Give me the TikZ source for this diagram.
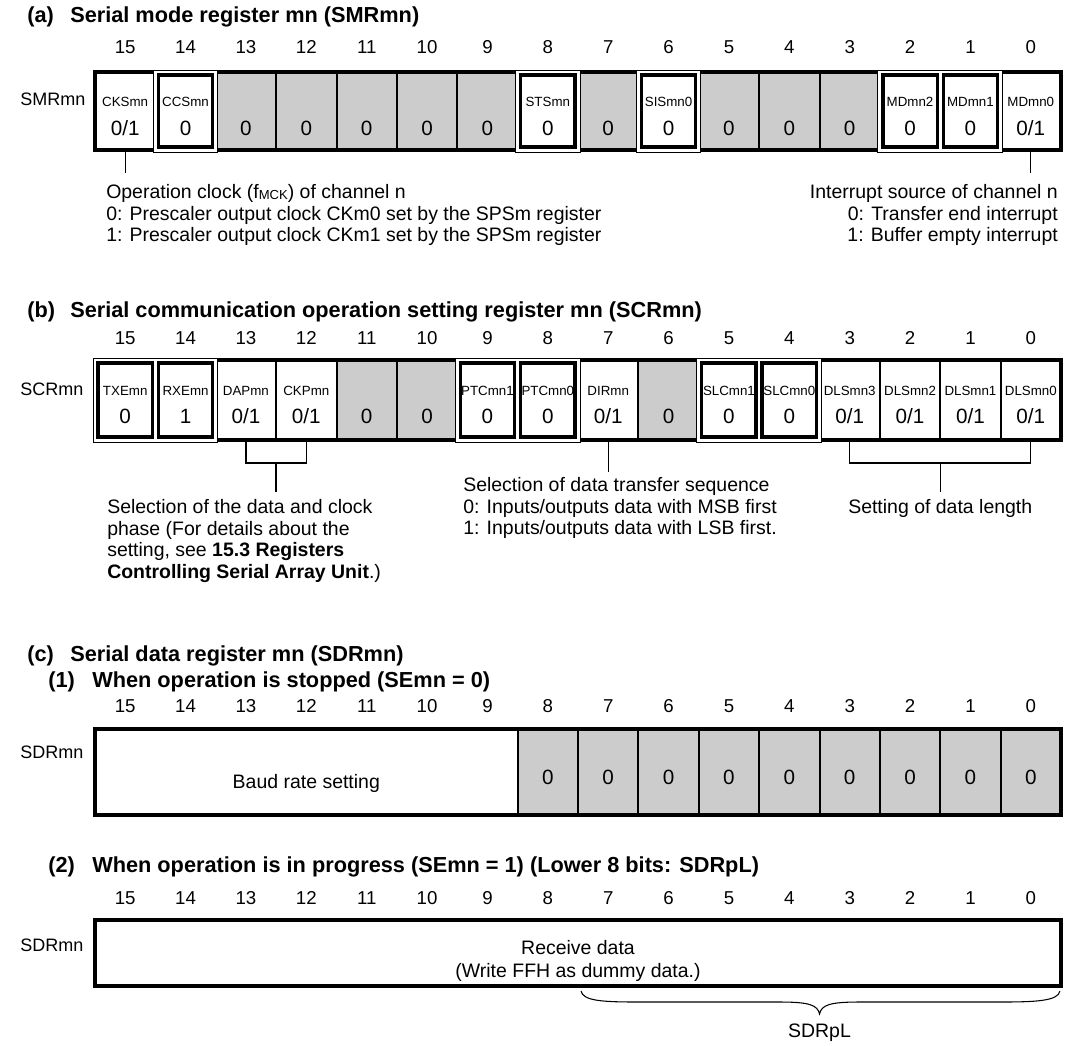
\documentclass[tikz,border=0pt]{standalone}
\usepackage{fontspec}
\setmainfont{Liberation Sans}
\begin{document}
\begin{tikzpicture}[x=0.75pt,y=-0.75pt,
  frame/.style={line width=2.8pt},
  sep/.style={line width=1.5pt},
  fixin/.style={line width=2.6pt},
  fixout/.style={line width=0.6pt, fill=white},
  grayfill/.style={fill=gray!40},
  title/.style={font=\fontsize{16.3}{19}\selectfont\bfseries, anchor=base west, inner sep=0pt},
  bitnum/.style={font=\fontsize{14}{16}\selectfont, anchor=base, inner sep=0pt},
  fname/.style={font=\fontsize{10}{12}\selectfont, anchor=base, inner sep=0pt},
  fval/.style={font=\fontsize{15.5}{18}\selectfont, anchor=base, inner sep=0pt},
  desc/.style={font=\fontsize{14.6}{16}\selectfont, anchor=base west, inner sep=0pt},
  descr/.style={desc, anchor=base east},
  desccen/.style={desc, anchor=base},
  reglabel/.style={font=\fontsize{13.5}{16}\selectfont, anchor=base west, inner sep=0pt},
  tick/.style={line width=1pt},
]
\def\L{95}
\def\W{60.375}
\useasboundingbox (0,0) rectangle (1073,1045);

% ================= (a) SMRmn =================
\node[title] (ta1) at (27,22.7) {(a)};
\node[title] (ta2) at (70,22.7) {Serial mode register mn (SMRmn)};
\foreach \b in {15,14,...,0} \node[bitnum] (an\b) at ({\L+(15.5-\b)*\W},53.7) {\b};
\node[reglabel] (la) at (20,106) {SMRmn};
\foreach \b in {13,12,11,10,9,7,5,4,3} \fill[grayfill] ({\L+(15-\b)*\W},72) rectangle ({\L+(16-\b)*\W},150);
\foreach \k in {1,...,15} \draw[sep] ({\L+\k*\W},72) -- ({\L+\k*\W},150);
\draw[frame] (\L,72) rectangle ({\L+16*\W},150);
\foreach \hi/\lo in {14/14,8/8,6/6,2/1} \draw[fixout] ({\L+(15-\hi)*\W-2},70) rectangle ({\L+(16-\lo)*\W+2},152);
\foreach \b in {14,8,6,2,1} \draw[fixin] ({\L+(15-\b)*\W+3},75) rectangle ({\L+(16-\b)*\W-3},147);
\foreach \b/\nm in {15/CKSmn,14/CCSmn,8/STSmn,6/SISmn0,2/MDmn2,1/MDmn1,0/MDmn0}
  \node[fname] (af\b) at ({\L+(15.5-\b)*\W},107) {\nm};
\foreach \b/\v in {15/{0/1},14/0,13/0,12/0,11/0,10/0,9/0,8/0,7/0,6/0,5/0,4/0,3/0,2/0,1/0,0/{0/1}}
  \node[fval] (av\b) at ({\L+(15.5-\b)*\W},135.5) {\v};
\coordinate (aB15) at ({\L+0.5*\W},150);
\coordinate (aE15) at ({\L+0.5*\W},173);
\coordinate (aB0) at ({\L+15.5*\W},150);
\coordinate (aE0) at ({\L+15.5*\W},173);
\draw[tick] (aB15) -- (aE15);
\draw[tick] (aB0) -- (aE0);
\node[desc] (ad1) at (106,198.7) {Operation clock (f\raisebox{-0.6pt}{\fontsize{9.8}{10}\selectfont MCK}) of channel n};
\node[desc] (ad2) at (106,220.2) {0: Prescaler output clock CKm0 set by the SPSm register};
\node[desc] (ad3) at (106,241.7) {1: Prescaler output clock CKm1 set by the SPSm register};
\node[descr] (ar1) at (1058,198.7) {Interrupt source of channel n};
\node[descr] (ar2) at (1058,220.2) {0: Transfer end interrupt};
\node[descr] (ar3) at (1058,241.7) {1: Buffer empty interrupt};

% ================= (b) SCRmn =================
\node[title] (tb1) at (27,317.7) {(b)};
\node[title] (tb2) at (70,317.7) {Serial communication operation setting register mn (SCRmn)};
\foreach \b in {15,14,...,0} \node[bitnum] (bn\b) at ({\L+(15.5-\b)*\W},344.7) {\b};
\node[reglabel] (lb) at (20,395) {SCRmn};
\foreach \b in {11,10,6} \fill[grayfill] ({\L+(15-\b)*\W},360) rectangle ({\L+(16-\b)*\W},440);
\foreach \k in {1,...,15} \draw[sep] ({\L+\k*\W},360) -- ({\L+\k*\W},440);
\draw[frame] (\L,360) rectangle ({\L+16*\W},440);
\foreach \hi/\lo in {15/14,9/8,5/4} \draw[fixout] ({\L+(15-\hi)*\W-2},358) rectangle ({\L+(16-\lo)*\W+2},442);
\foreach \b in {15,14,9,8,5,4} \draw[fixin] ({\L+(15-\b)*\W+3},363) rectangle ({\L+(16-\b)*\W-3},437);
\foreach \b/\nm in {15/TXEmn,14/RXEmn,13/DAPmn,12/CKPmn,9/PTCmn1,8/PTCmn0,7/DIRmn,5/SLCmn1,4/SLCmn0,3/DLSmn3,2/DLSmn2,1/DLSmn1,0/DLSmn0}
  \node[fname] (bf\b) at ({\L+(15.5-\b)*\W},395) {\nm};
\foreach \b/\v in {15/0,14/1,13/{0/1},12/{0/1},11/0,10/0,9/0,8/0,7/{0/1},6/0,5/0,4/0,3/{0/1},2/{0/1},1/{0/1},0/{0/1}}
  \node[fval] (bv\b) at ({\L+(15.5-\b)*\W},423.5) {\v};
% bracket DAP/CKP
\coordinate (bB13) at ({\L+2.5*\W},440);
\coordinate (bB12) at ({\L+3.5*\W},440);
\coordinate (bK1) at ({\L+3*\W},463);
\coordinate (bK1e) at ({\L+3*\W},492);
\draw[tick] (bB13) -- ++(0,23) -| (bB12);
\draw[tick] (bK1) -- (bK1e);
% DIR tick
\coordinate (bB7) at ({\L+8.5*\W},440);
\coordinate (bE7) at ({\L+8.5*\W},472);
\draw[tick] (bB7) -- (bE7);
% bracket DLS
\coordinate (bB3) at ({\L+12.5*\W},440);
\coordinate (bB0) at ({\L+15.5*\W},440);
\coordinate (bK2) at ({\L+14*\W},463);
\coordinate (bK2e) at ({\L+14*\W},492);
\draw[tick] (bB3) -- ++(0,23) -| (bB0);
\draw[tick] (bK2) -- (bK2e);
\node[desc] (bl1) at (107,513.7) {Selection of the data and clock};
\node[desc] (bl2) at (107,535.2) {phase (For details about the};
\node[desc] (bl3) at (107,556.7) {setting, see \textbf{15.3 Registers}};
\node[desc] (bl4) at (107,578.2) {\textbf{Controlling Serial Array Unit}.)};
\node[desc] (bm1) at (463,491.7) {Selection of data transfer sequence};
\node[desc] (bm2) at (463,513.2) {0: Inputs/outputs data with MSB first};
\node[desc] (bm3) at (463,534.7) {1: Inputs/outputs data with LSB first.};
\node[desccen] (br1) at ({\L+14*\W},513.7) {Setting of data length};

% ================= (c) SDRmn =================
\node[title] (tc1) at (27,661.7) {(c)};
\node[title] (tc2) at (70,661.7) {Serial data register mn (SDRmn)};
\node[title] (tc3) at (48,687.7) {(1)};
\node[title] (tc4) at (92,687.7) {When operation is stopped (SEmn = 0)};
\foreach \b in {15,14,...,0} \node[bitnum] (cn\b) at ({\L+(15.5-\b)*\W},712.7) {\b};
\node[reglabel] (lc) at (20,758.4) {SDRmn};
\fill[grayfill] ({\L+7*\W},729) rectangle ({\L+16*\W},815);
\foreach \k in {7,...,15} \draw[sep] ({\L+\k*\W},729) -- ({\L+\k*\W},815);
\draw[frame] (\L,729) rectangle ({\L+16*\W},815);
\node[desccen] (cbaud) at ({\L+3.5*\W},788.7) {Baud rate setting};
\foreach \b in {8,7,...,0} \node[fval] (cv\b) at ({\L+(15.5-\b)*\W},784) {0};

\node[title] (td1) at (48,872.7) {(2)};
\node[title] (td2) at (92,872.7) {When operation is in progress (SEmn = 1) (Lower 8 bits: SDRpL)};
\foreach \b in {15,14,...,0} \node[bitnum] (dn\b) at ({\L+(15.5-\b)*\W},904.7) {\b};
\node[reglabel] (ld) at (20,951.4) {SDRmn};
\draw[frame] (\L,920) rectangle ({\L+16*\W},986);
\node[desccen] (drx1) at ({\L+8*\W},954.7) {Receive data};
\node[desccen] (drx2) at ({\L+8*\W},977.7) {(Write FFH as dummy data.)};
% brace
\coordinate (brL) at ({\L+8*\W+3},991);
\coordinate (brR) at ({\L+16*\W-1},991);
\coordinate (brT) at ({\L+12*\W},1014);
\draw[line width=0.8pt] (brL) .. controls ({\L+8*\W+5},1001) and ({\L+8*\W+25},1002) .. ({\L+8*\W+60},1002)
  -- ({\L+12*\W-40},1002) .. controls ({\L+12*\W-10},1002) and ({\L+12*\W-2},1005) .. (brT)
  .. controls ({\L+12*\W+2},1005) and ({\L+12*\W+10},1002) .. ({\L+12*\W+40},1002)
  -- ({\L+16*\W-60},1002) .. controls ({\L+16*\W-25},1002) and ({\L+16*\W-3},1001) .. (brR);
\node[desccen] (dsl) at ({\L+12*\W},1037.7) {SDRpL};
\end{tikzpicture}
\end{document}
